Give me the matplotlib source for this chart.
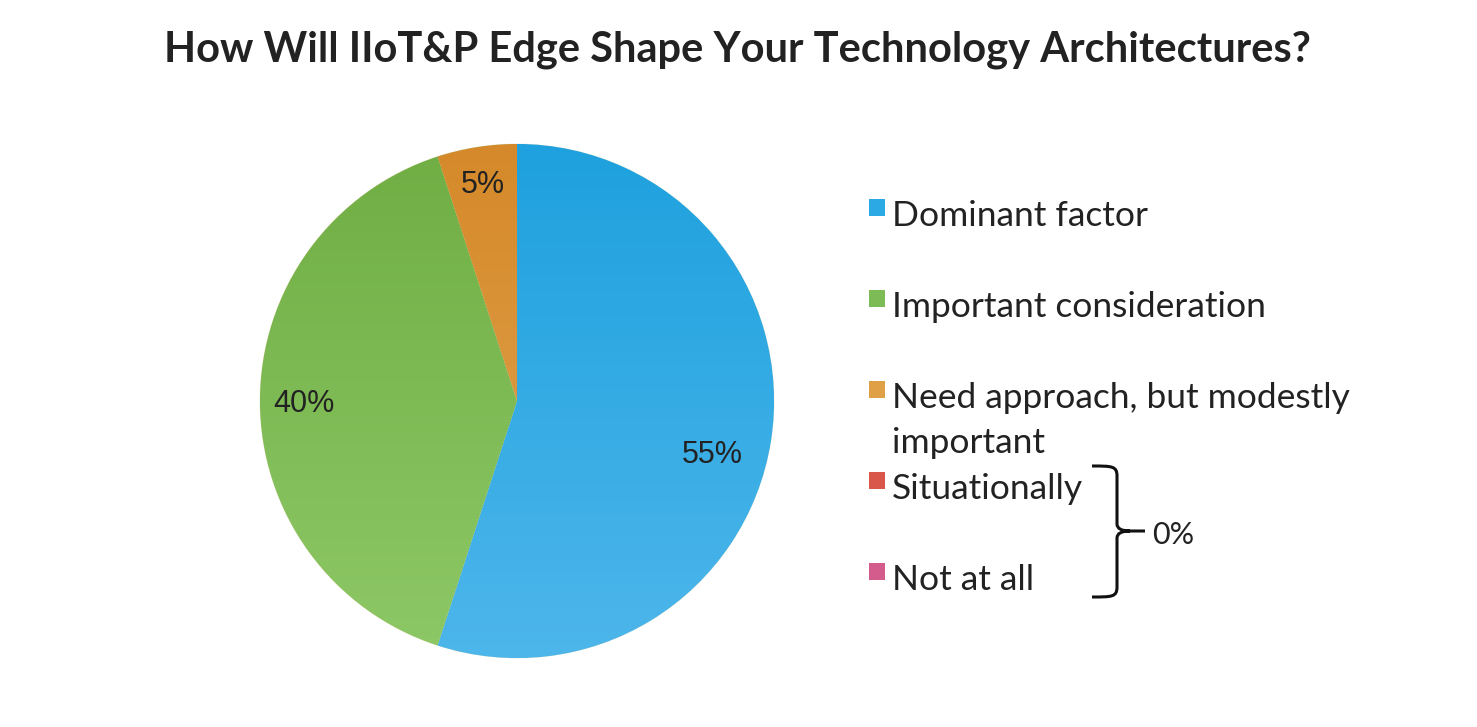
import numpy as np
import matplotlib
matplotlib.use("Agg")
import matplotlib.pyplot as plt
from matplotlib.patches import Rectangle, PathPatch
from matplotlib.path import Path
from matplotlib.colors import LinearSegmentedColormap

# data
title = "How Will IIoT&P Edge Shape Your Technology Architectures?"
categories = ["Dominant factor", "Important consideration",
              "Need approach, but modestly\nimportant", "Situationally", "Not at all"]
shares = [55, 40, 5, 0, 0]
zero_label = "0%"

# (top colour, bottom colour) of each slice gradient, plus legend swatch colour
grad_colors = [("#1ea1de", "#4db6eb"), ("#70ae44", "#8dc866"), ("#d5892a", "#e3a652"),
               ("#d65446", "#e0675a"), ("#d4538a", "#df6a9c")]
swatch_colors = ["#2aa9e4", "#7cbb55", "#e0a045", "#d9574a", "#d45c8c"]

W, H = 1477, 727
fig = plt.figure(figsize=(W / 100, H / 100), dpi=100)

# pie axes: centre (517, 401) px, radius 257 px
cx, cy, r = 517, 401, 257
ax = fig.add_axes([(cx - r) / W, (H - cy - r) / H, 2 * r / W, 2 * r / H])
wedges, texts, autotexts = ax.pie(
    shares, startangle=90, counterclock=False, radius=1,
    autopct=lambda p: f"{p:.0f}%" if p > 0 else "", pctdistance=0.85,
    textprops=dict(fontsize=22, color="#222222", family="Liberation Sans"),
    wedgeprops=dict(linewidth=0.6, edgecolor="#e8f0e0"))
ax.set_xlim(-1, 1)
ax.set_ylim(-1, 1)
ax.set_aspect("equal")
ax.axis("off")

# vertical gradient inside each wedge
for w, (top, bot) in zip(wedges, grad_colors):
    cmap = LinearSegmentedColormap.from_list("g", [top, bot])
    grad = np.linspace(0, 1, 256).reshape(-1, 1)
    im = ax.imshow(grad, cmap=cmap, extent=(-1, 1, -1, 1), origin="upper",
                   aspect="auto", zorder=w.get_zorder() + 0.1)
    im.set_clip_path(w)
for t in autotexts:
    t.set_zorder(5)

# Excel put the big slice label off its middle angle
ang = np.deg2rad(-15.5)
autotexts[0].set_position((0.79 * np.cos(ang), 0.79 * np.sin(ang)))
autotexts[1].set_position((-0.83, -0.01))
ax.set_xlim(-1, 1)
ax.set_ylim(-1, 1)

fig.text(737 / W, 1 - 50 / H, title, ha="center", va="center",
         fontsize=30, fontweight="bold", family="Lato", color="#222222")

# overlay in pixel coordinates for legend and bracket
ov = fig.add_axes([0, 0, 1, 1])
ov.set_xlim(0, W)
ov.set_ylim(H, 0)
ov.axis("off")

swatch_y = [199, 290, 381, 472, 563]
for name, col, y in zip(categories, swatch_colors, swatch_y):
    ov.add_patch(Rectangle((869, y), 16, 17, facecolor=col, edgecolor="none"))
    for k, line in enumerate(name.split("\n")):
        ov.text(892, y + 27 + 45 * k, line, ha="left", va="baseline", fontsize=25.5,
                family="Lato", color="#222222")

# curly bracket joining the two zero categories
verts = [(1092, 466), (1112, 466), (1117, 466), (1117, 476),
         (1117, 524), (1117, 531), (1130, 531),
         (1145, 531),
         (1130, 531), (1117, 531), (1117, 538),
         (1117, 587), (1117, 597), (1112, 597), (1092, 597)]
codes = [Path.MOVETO, Path.CURVE4, Path.CURVE4, Path.CURVE4,
         Path.LINETO, Path.CURVE3, Path.CURVE3,
         Path.LINETO,
         Path.MOVETO, Path.CURVE3, Path.CURVE3,
         Path.LINETO, Path.CURVE4, Path.CURVE4, Path.CURVE4]
ov.add_patch(PathPatch(Path(verts, codes), facecolor="none", edgecolor="#111111", lw=2.2))
ov.text(1152, 535, zero_label, ha="left", va="center", fontsize=22,
        family="Lato", color="#222222")

fig.savefig("out.png", dpi=100)
